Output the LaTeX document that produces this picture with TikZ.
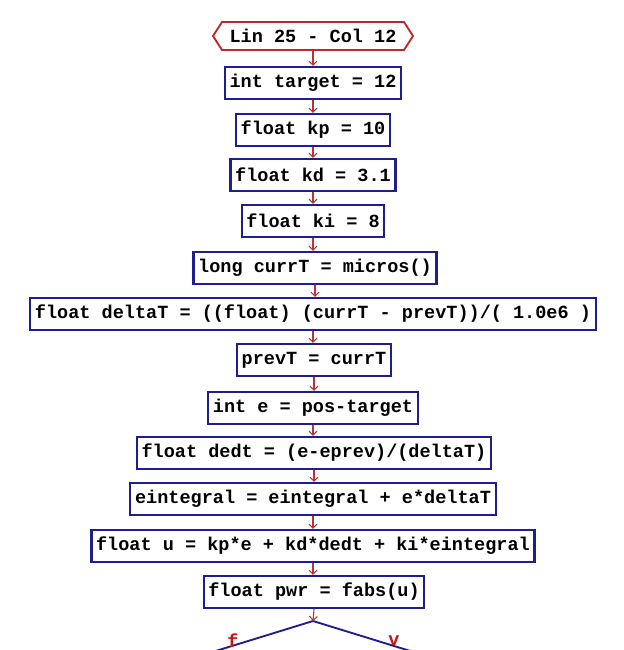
\documentclass[tikz,border=0pt]{standalone}
\usepackage{fontspec}
\setmonofont{Liberation Mono}
\usetikzlibrary{arrows.meta}
\tikzset{
 px/.style={x=0.75pt,y=-0.75pt},
 stmt/.style={draw={rgb,255:red,30;green,30;blue,140},line width=1.6pt,fill=white,inner xsep=3.5pt,inner ysep=0pt,minimum height=24pt,font=\ttfamily\bfseries\fontsize{13.9}{15}\selectfont},
 flow/.style={draw={rgb,255:red,190;green,50;blue,50},line width=0.8pt,-{Straight Barb[length=3pt,width=6pt]}},
 lbl/.style={text={rgb,255:red,200;green,20;blue,20},font=\ttfamily\bfseries\fontsize{13.9}{15}\selectfont}
}
\begin{document}
\begin{tikzpicture}[px]
\useasboundingbox (0,0) rectangle (624,650);
\clip (0,0) rectangle (624,650);
\fill[white] (0,0) rectangle (624,650);
\draw[draw={rgb,255:red,190;green,40;blue,40},line width=1.4pt,fill=white] (213,36)--(222,22)--(404,22)--(413,36)--(404,50)--(222,50)--cycle;
\node[stmt,draw=none,fill=none] (n0) at (313,36) {Lin 25 - Col 12};
\coordinate (h0) at (313,50);
\node[stmt] (n1) at (313,83) {int target = 12};
\node[stmt] (n2) at (313,130) {float kp = 10};
\node[stmt] (n3) at (313,175) {float kd = 3.1};
\node[stmt] (n4) at (313,221) {float ki = 8};
\node[stmt] (n5) at (315,268) {long currT = micros()};
\node[stmt] (n6) at (313,314) {float deltaT = ((float) (currT - prevT))/( 1.0e6 )};
\node[stmt] (n7) at (314,360) {prevT = currT};
\node[stmt] (n8) at (313,408) {int e = pos-target};
\node[stmt] (n9) at (314,453) {float dedt = (e-eprev)/(deltaT)};
\node[stmt] (n10) at (313,499) {eintegral = eintegral + e*deltaT};
\node[stmt] (n11) at (313,546) {float u = kp*e + kd*dedt + ki*eintegral};
\node[stmt] (n12) at (314,592) {float pwr = fabs(u)};
\coordinate (dtop) at (313,621);
\draw[draw={rgb,255:red,30;green,30;blue,140},line width=1.4pt,fill=white] (dtop)--(433,658)--(313,695)--(193,658)--cycle;
\node[stmt,draw=none,fill=none] (d) at (313,660) {pwr > 250};
\node[lbl] (lf) at (233,641) {f};
\node[lbl] (lv) at (394,641) {v};
\draw[flow] (h0) -- (n1.north);
\foreach \a/\b in {n1/n2,n2/n3,n3/n4,n4/n5,n5/n6,n6/n7,n7/n8,n8/n9,n9/n10,n10/n11,n11/n12}
  \draw[flow] (\a.south) -- (\a.south|-\b.north);
\draw[flow] (n12.south) -- (dtop);
\end{tikzpicture}
\end{document}
